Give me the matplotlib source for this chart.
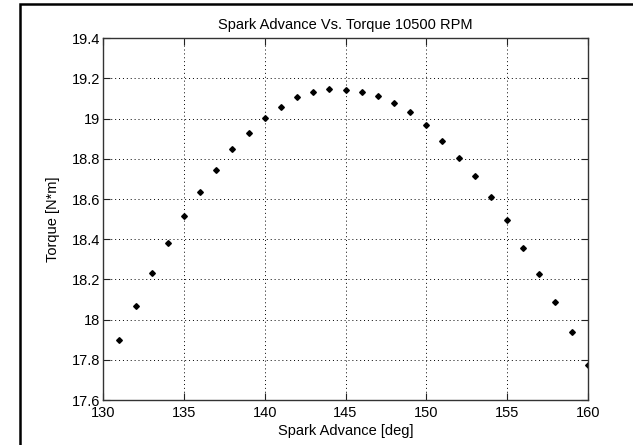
import numpy as np
import matplotlib
matplotlib.use('Agg')
import matplotlib.pyplot as plt
from matplotlib.patches import Rectangle

# spark advance sweep at 10500 rpm
spark_deg = [131, 132, 133, 134, 135, 136, 137, 138, 139, 140,
             141, 142, 143, 144, 145, 146, 147, 148, 149, 150,
             151, 152, 153, 154, 155, 156, 157, 158, 159, 160]
torque_nm = [17.899, 18.069, 18.232, 18.380, 18.516, 18.637, 18.747, 18.848, 18.931, 19.001,
             19.059, 19.107, 19.132, 19.149, 19.144, 19.132, 19.111, 19.079, 19.031, 18.968,
             18.890, 18.805, 18.715, 18.610, 18.494, 18.358, 18.227, 18.089, 17.936, 17.773]

x_ticks = [130, 135, 140, 145, 150, 155, 160]
y_ticks = [17.6, 17.8, 18.0, 18.2, 18.4, 18.6, 18.8, 19.0, 19.2, 19.4]
y_labels = ['17.6', '17.8', '18', '18.2', '18.4', '18.6', '18.8', '19', '19.2', '19.4']

plt.rcParams['font.family'] = ['Liberation Sans', 'DejaVu Sans']
plt.rcParams['font.size'] = 10.5

fig = plt.figure(figsize=(6.33, 4.45), dpi=100)
ax = fig.add_axes([103.3/633, 45/445, (587.7-103.3)/633, (400-38.3)/445])

# outer black frame (only left and top edge show in the picture)
frame = Rectangle((20/633, -0.1), 1.2, (441 + 44.5) / 445, transform=fig.transFigure,
                  fill=False, edgecolor='black', linewidth=1.8)
fig.patches.append(frame)

ax.plot(spark_deg, torque_nm, linestyle='none', marker='D', markersize=2.9,
        color='black')

ax.set_xlim(130, 160)
ax.set_ylim(17.6, 19.4)
ax.set_xticks(x_ticks)
ax.set_yticks(y_ticks)
ax.set_yticklabels(y_labels)
ax.grid(True, linestyle=(0, (1, 3)), color='black', linewidth=0.7)
ax.tick_params(direction='in', length=5, width=0.8, top=True, right=True,
               colors='#222222', labelcolor='black')
ax.tick_params(axis='x', pad=4)
ax.tick_params(axis='y', pad=2)
for s in ax.spines.values():
    s.set_color('#333333')
    s.set_linewidth(1.0)

ax.set_title('Spark Advance Vs. Torque 10500 RPM', fontsize=10.5, pad=7)
ax.set_xlabel('Spark Advance [deg]', labelpad=3)
ax.set_ylabel('Torque [N*m]', labelpad=9)

fig.savefig('out.png', dpi=100)
